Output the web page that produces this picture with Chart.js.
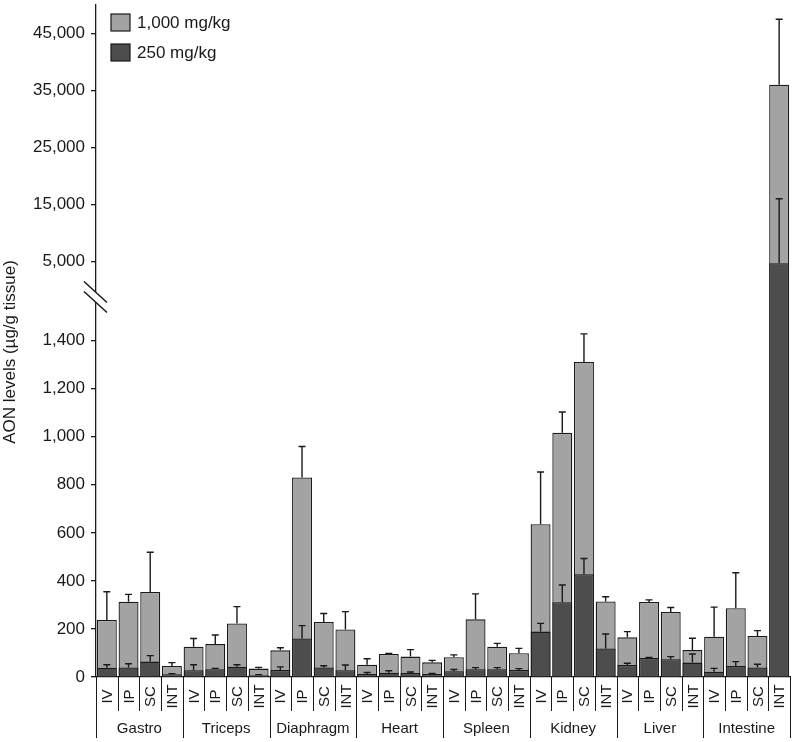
<!DOCTYPE html>
<html>
<head>
<meta charset="utf-8">
<style>
  html, body { margin: 0; padding: 0; background: #fff; }
  #wrap { position: relative; width: 797px; height: 742px; }
</style>
<script src="https://cdn.jsdelivr.net/npm/chart.js@4.4.0/dist/chart.umd.min.js"></script>
</head>
<body>
<div id="wrap"><canvas id="aonChart"></canvas></div>
<script>
const tissues = ['Gastro', 'Triceps', 'Diaphragm', 'Heart', 'Spleen', 'Kidney', 'Liver', 'Intestine'];
const routes = ['IV', 'IP', 'SC', 'INT'];

// 1,000 mg/kg (light bars) and their upward error
const dose1000 = [237, 313, 354, 46,  126, 137, 223, 35,  111, 830, 229, 198,  51, 96, 85, 61,
                  82, 240, 126, 99,  636, 1016, 1311, 314,  165, 312, 271, 112,  168, 286, 171, 36000];
const dose1000Err = [118, 31, 165, 14,  34, 38, 70, 5,  11, 129, 35, 74,  25, 2, 29, 8,
                     10, 106, 14, 20,  217, 87, 117, 20,  24, 9, 18, 49,  123, 148, 22, 11500];

// 250 mg/kg (dark bars) and their upward error
const dose250 = [39, 40, 64, 11,  28, 32, 43, 7,  29, 160, 40, 28,  12, 18, 17, 12,
                 24, 32, 32, 29,  189, 311, 428, 119,  50, 79, 74, 60,  22, 46, 40, 4700];
const dose250Err = [12, 15, 25, 3,  23, 4, 8, 3,  13, 54, 7, 22,  7, 8, 4, 3,
                    7, 7, 7, 6,  34, 72, 65, 60,  7, 2, 11, 36,  14, 18, 13, 11300];

const yTicks = [0, 200, 400, 600, 800, 1000, 1200, 1400, 5000, 15000, 25000, 35000, 45000];

const FONT = '"Liberation Sans", Arial, Helvetica, sans-serif';
const INK = '#1a1a1a';
const LIGHT = '#a3a3a3';
const DARK = '#4d4d4d';

// linear scale with a break: [0, splitValue] fills the lower part, the rest goes above it
class BrokenScale extends Chart.LinearScale {
  determineDataLimits() {
    this.min = 0;
    this.max = this.options.max;
  }
  buildTicks() {
    return yTicks.map(v => ({ value: v }));
  }
  _calculatePadding(...args) {
    super._calculatePadding(...args);
    this.paddingTop = 0;
    this.paddingBottom = 0;
  }
  getPixelForValue(value) {
    const split = this.options.splitValue;
    const h = this.bottom - this.top;
    const ySplit = this.bottom - h * this.options.splitFraction;
    if (value <= split) return this.bottom - (value / split) * (this.bottom - ySplit);
    return ySplit - (value - split) / (this.max - split) * (ySplit - this.top);
  }
  getValueForPixel(pixel) {
    const split = this.options.splitValue;
    const h = this.bottom - this.top;
    const ySplit = this.bottom - h * this.options.splitFraction;
    if (pixel >= ySplit) return (this.bottom - pixel) / (this.bottom - ySplit) * split;
    return split + (ySplit - pixel) / (ySplit - this.top) * (this.max - split);
  }
}
BrokenScale.id = 'broken';
BrokenScale.defaults = Chart.LinearScale.defaults;
Chart.register(BrokenScale);

const labels = tissues.flatMap(t => routes.map(r => t + ' ' + r));

const extras = {
  id: 'extras',
  afterDatasetsDraw(chart) {
    const { ctx } = chart;
    const y = chart.scales.y;
    const errs = [dose250Err, dose1000Err];
    ctx.save();
    ctx.strokeStyle = INK;
    ctx.lineWidth = 1.4;
    chart.data.datasets.forEach((ds, di) => {
      const meta = chart.getDatasetMeta(di);
      meta.data.forEach((bar, i) => {
        const top = y.getPixelForValue(ds.data[i] + errs[di][i]);
        ctx.beginPath();
        ctx.moveTo(bar.x, bar.y);
        ctx.lineTo(bar.x, top);
        ctx.moveTo(bar.x - 3.5, top);
        ctx.lineTo(bar.x + 3.5, top);
        ctx.stroke();
      });
    });
    ctx.restore();
  },
  afterDraw(chart) {
    const { ctx, chartArea } = chart;
    const x = chart.scales.x;
    const y = chart.scales.y;
    const half = (x.getPixelForValue(1) - x.getPixelForValue(0)) / 2;
    const base = chartArea.bottom;
    ctx.save();

    // route boxes and group labels
    ctx.strokeStyle = INK;
    ctx.lineWidth = 1;
    for (let i = 0; i <= labels.length; i++) {
      const bx = Math.round(x.getPixelForValue(Math.min(i, labels.length - 1)) + (i === labels.length ? half : -half)) + 0.5;
      ctx.beginPath();
      ctx.moveTo(bx, base);
      ctx.lineTo(bx, i % routes.length === 0 ? base + 61 : base + 34);
      ctx.stroke();
    }
    ctx.fillStyle = INK;
    ctx.font = '15px ' + FONT;
    ctx.textAlign = 'center';
    ctx.textBaseline = 'middle';
    labels.forEach((lab, i) => {
      const px = x.getPixelForValue(i);
      ctx.save();
      ctx.translate(px + 1, base + 19.5);
      ctx.rotate(-Math.PI / 2);
      ctx.fillText(routes[i % routes.length], 0, 0);
      ctx.restore();
    });
    tissues.forEach((t, g) => {
      const cx = (x.getPixelForValue(g * 4) + x.getPixelForValue(g * 4 + 3)) / 2;
      ctx.fillText(t, cx, base + 52);
    });

    // axis break
    const yb = y.getPixelForValue(y.options.splitValue) + 16;
    const ax = chartArea.left;
    ctx.fillStyle = '#fff';
    ctx.beginPath();
    ctx.moveTo(ax - 12, yb - 15);
    ctx.lineTo(ax + 11, yb + 6);
    ctx.lineTo(ax + 11, yb + 16);
    ctx.lineTo(ax - 12, yb - 5);
    ctx.closePath();
    ctx.fill();
    ctx.strokeStyle = INK;
    ctx.lineWidth = 1.5;
    ctx.beginPath();
    ctx.moveTo(ax - 12, yb - 15);
    ctx.lineTo(ax + 11, yb + 6);
    ctx.moveTo(ax - 12, yb - 5);
    ctx.lineTo(ax + 11, yb + 16);
    ctx.stroke();

    // y title
    ctx.fillStyle = INK;
    ctx.font = '17px ' + FONT;
    ctx.save();
    ctx.translate(10, 352);
    ctx.rotate(-Math.PI / 2);
    ctx.fillText('AON levels (\u00b5g/g tissue)', 0, 0);
    ctx.restore();

    // legend
    const items = [chart.data.datasets[1], chart.data.datasets[0]];
    ctx.textAlign = 'left';
    items.forEach((ds, k) => {
      const ly = 14 + k * 30;
      ctx.fillStyle = ds.backgroundColor;
      ctx.fillRect(111, ly, 19, 17);
      ctx.strokeStyle = INK;
      ctx.lineWidth = 1.2;
      ctx.strokeRect(111, ly, 19, 17);
      ctx.fillStyle = INK;
      ctx.fillText(ds.label, 137, ly + 9);
    });
    ctx.restore();
  }
};

new Chart(document.getElementById('aonChart'), {
  type: 'bar',
  data: {
    labels: labels,
    datasets: [
      {
        label: '250 mg/kg',
        data: dose250,
        backgroundColor: DARK,
        borderColor: INK,
        borderWidth: 1.3,
        grouped: false,
        order: 0
      },
      {
        label: '1,000 mg/kg',
        data: dose1000,
        backgroundColor: LIGHT,
        borderColor: INK,
        borderWidth: 1.3,
        grouped: false,
        order: 1
      }
    ]
  },
  options: {
    responsive: true,
    maintainAspectRatio: false,
    animation: false,
    devicePixelRatio: 1,
    layout: { padding: { left: 32, right: 7, top: 5, bottom: 0 } },
    datasets: { bar: { barPercentage: 0.92, categoryPercentage: 1 } },
    plugins: {
      legend: { display: false },
      tooltip: { enabled: false }
    },
    scales: {
      x: {
        type: 'category',
        offset: true,
        grid: { display: true, drawOnChartArea: false, drawTicks: false },
        border: { display: true, color: INK, width: 1.3 },
        ticks: { display: false },
        afterFit(s) { s.height = 65; }
      },
      y: {
        type: 'broken',
        max: 50000,
        splitValue: 1650,
        splitFraction: 0.59,
        grid: { display: true, drawOnChartArea: false, drawTicks: true, tickLength: 5, color: INK, lineWidth: 1.3 },
        border: { display: true, color: INK, width: 1.3 },
        ticks: {
          autoSkip: false,
          padding: 6,
          color: INK,
          font: { family: FONT, size: 17 },
          callback: v => v.toLocaleString('en-US')
        },
        afterFit(s) { s.width = 64; }
      }
    }
  },
  plugins: [extras]
});
</script>
</body>
</html>
